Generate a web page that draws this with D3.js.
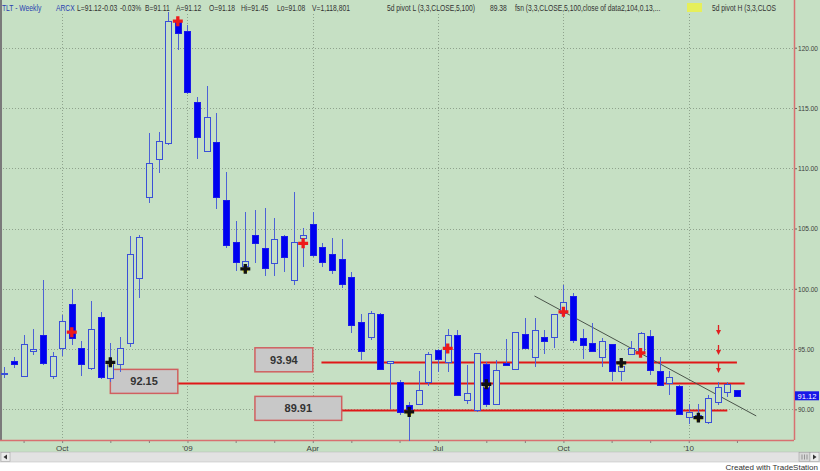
<!DOCTYPE html>
<html><head><meta charset="utf-8">
<script src="https://cdn.jsdelivr.net/npm/d3@7"></script>
<style>html,body{margin:0;padding:0;background:#fff;}svg{display:block;font-family:"Liberation Sans",Arial,sans-serif;}</style>
</head><body>
<svg id="chart" width="820" height="471"></svg>
<script>
// ---------------- DATA ----------------
const opens  = [93.0,94.0,92.8,94.85,96.15,92.74,95.05,98.73,95.07,93.4,97.67,92.58,93.74,95.5,100.87,107.6,110.77,112.1,122.1,121.35,115.5,111.4,112.2,107.37,103.9,101.9,104.5,103.4,102.1,104.4,100.7,104.2,105.4,103.5,102.9,102.5,100.95,97.26,95.96,97.9,93.85,92.27,90.33,90.42,92.27,94.96,93.93,96.2,90.75,89.98,93.72,90.42,93.85,93.38,96.23,94.35,95.96,96.01,97.96,99.39,95.88,95.51,94.3,95.4,93.18,94.57,94.68,96.07,93.18,92.19,91.91,89.36,89.3,88.94,90.6,91.44,91.6];
const highs  = [93.5,94.3,96.15,96.7,100.7,94.74,97.8,99.97,95.7,99.0,98.09,95.5,95.99,104.38,104.47,112.9,113.0,123.0,122.5,121.9,115.95,116.84,114.6,109.7,105.65,106.4,106.5,106.7,105.9,104.5,108.0,105.07,106.4,103.77,104.2,104.1,101.4,97.9,98.17,97.95,94.0,92.41,90.6,93.18,94.76,94.98,96.7,96.57,93.66,94.7,93.93,94.07,95.8,96.45,97.54,97.54,96.62,97.92,100.3,99.67,96.7,97.17,95.88,95.42,93.93,95.68,96.43,96.62,94.3,93.18,92.0,90.47,90.47,91.16,92.27,92.27,91.62];
const lows   = [92.6,93.4,92.66,94.5,93.66,92.5,94.4,95.3,92.8,93.24,92.5,92.27,93.08,95.18,99.2,107.1,109.6,111.9,119.8,116.2,110.8,111.4,106.6,103.35,101.5,101.4,102.1,101.06,101.06,101.4,100.3,101.8,102.66,101.8,101.26,100.03,96.3,94.1,95.74,93.24,90.06,89.5,87.4,90.33,91.9,93.1,93.1,91.1,90.47,89.78,90.2,90.33,93.6,93.35,95.04,93.52,94.57,95.05,97.54,95.46,94.2,94.76,93.47,92.35,92.35,94.49,94.49,92.83,91.95,91.16,89.6,88.81,88.95,88.81,90.33,91.0,91.05];
const closes = [93.02,93.74,95.4,95.0,93.8,94.4,97.34,95.9,93.74,96.65,92.68,93.82,95.07,102.88,104.3,110.45,112.27,122.2,121.2,116.3,112.6,114.25,107.6,103.6,102.24,102.3,103.8,101.7,104.1,102.6,103.85,104.5,102.8,102.2,101.55,100.4,97.0,94.85,98.0,93.38,94.0,89.78,90.06,91.64,94.57,94.2,96.15,91.16,91.35,94.7,90.42,93.24,93.66,96.43,95.1,96.62,95.65,97.9,98.92,95.79,95.32,94.82,95.68,93.18,93.57,95.05,96.3,93.24,91.99,92.68,89.64,89.78,89.5,90.97,91.85,92.08,91.12];

const pivotHighIdx = [7,18,31,46,58,66];
const pivotHighVal = [96.4,122.2,103.77,95.05,98.09,94.68];
const pivotLowIdx  = [11,25,42,50,64,72];
const pivotLowVal  = [93.9,101.65,89.78,92.08,93.85,89.31];

const levelValues = [93.94,92.15,89.91];
const levelLabels = ["93.94","92.15","89.91"];

const trendIdx = [55,78];
const trendVal = [99.4,89.45];

const arrowIdx = 74;
const arrowVals = [96.97,95.31,93.82];

const yTicks = [90,95,100,105,110,115,120];
const yTickLabels = ["90.00","95.00","100.00","105.00","110.00","115.00","120.00"];
const monthLabelIdx = [6,19,32,45,58,71];
const monthLabels = ["Oct","'09","Apr","Jul","Oct","'10"];
const monthTickIdx = [2,6,11,15,19,24,28,32,36,41,45,50,54,58,63,67,71,76];

const lastPrice = 91.12;
const headerTokens = ["TLT - Weekly","ARCX","L=91.12","-0.03","-0.03%","B=91.11","A=91.12","O=91.18","Hi=91.45","Lo=91.08","V=1,118,801","5d pivot L (3,3,CLOSE,5,100)","89.38","fsn (3,3,CLOSE,5,100,close of data2,104,0.13,...","5d pivot H (3,3,CLOS"];

// ---------------- LAYOUT ----------------
const W = 820, H = 471;
const plotRight = 794, plotBottom = 440;
const bg = "#c6e0c4";
const svg = d3.select("#chart");

const x = d3.scaleLinear().domain([0,76]).range([4.3, 4.3+76*9.64]);
const y = d3.scaleLinear().domain([90,120]).range([409.3, 47.7]);
const px = v => Math.round(x(v));
const py = v => Math.round(y(v));

svg.append("rect").attr("x",0).attr("y",0).attr("width",W).attr("height",452).attr("fill",bg);

// grid
const grid = svg.append("g").attr("stroke","#8fa38d").attr("stroke-width",1).attr("stroke-dasharray","1,2");
grid.selectAll("line.h").data(yTicks).join("line").attr("class","h")
  .attr("x1",0).attr("x2",plotRight).attr("y1",d=>py(d)+0.5).attr("y2",d=>py(d)+0.5);
grid.selectAll("line.v").data(monthLabelIdx).join("line").attr("class","v")
  .attr("x1",d=>px(d)+0.5).attr("x2",d=>px(d)+0.5).attr("y1",14).attr("y2",plotBottom);

// left border
svg.append("line").attr("x1",1).attr("x2",1).attr("y1",0).attr("y2",plotBottom).attr("stroke","#7a7a7a").attr("stroke-width",2);

// y axis
const yAxis = d3.axisRight(y).tickValues(yTicks).tickSize(3).tickPadding(1)
  .tickFormat((d,i)=>yTickLabels[i]);
const gy = svg.append("g").attr("transform",`translate(${plotRight},0)`).call(yAxis);
gy.select(".domain").remove();
gy.selectAll("line").attr("stroke","#606060");
gy.selectAll("text").attr("font-size","7.5px").attr("fill","#404040")
  .attr("font-family","Liberation Sans, Arial, sans-serif")
  .attr("textLength",(d,i)=>yTickLabels[i].length>5?20:16).attr("lengthAdjust","spacingAndGlyphs");

// x axis
const xAxis = d3.axisBottom(x).tickValues(monthTickIdx).tickSize(3).tickFormat("");
const gx = svg.append("g").attr("transform",`translate(0,${plotBottom})`).call(xAxis);
gx.select(".domain").remove();
gx.selectAll("line").attr("stroke","#808080");
svg.append("g").selectAll("text").data(monthLabelIdx).join("text")
  .attr("x",d=>x(d)).attr("y",451).attr("text-anchor","middle")
  .attr("font-size","8px").attr("fill","#404040").text((d,i)=>monthLabels[i]);

// plot border lines (red)
svg.append("line").attr("x1",0).attr("x2",plotRight).attr("y1",plotBottom+0.5).attr("y2",plotBottom+0.5).attr("stroke","#d87070").attr("stroke-width",1.5);
svg.append("line").attr("x1",plotRight+0.5).attr("x2",plotRight+0.5).attr("y1",0).attr("y2",plotBottom).attr("stroke","#d87070").attr("stroke-width",1.5);

// level lines & boxes
const levelLine = [[32.9,76.0],[18.0,76.8],[35.0,75.0]];
const levelBox  = [[26.0,32.0],[11.0,18.0],[26.0,35.0]];
const lv = svg.append("g");
levelValues.forEach((v,i)=>{
  lv.append("line").attr("x1",x(levelLine[i][0])).attr("x2",x(levelLine[i][1]))
    .attr("y1",py(v)+0.5).attr("y2",py(v)+0.5).attr("stroke","#e01818").attr("stroke-width",2);
  const bx0 = x(levelBox[i][0]), bx1 = x(levelBox[i][1]);
  const cy = y(v) - 2;
  lv.append("rect").attr("x",bx0).attr("y",cy-12).attr("width",bx1-bx0).attr("height",24)
    .attr("fill","#c8c8c8").attr("stroke","#d06060").attr("stroke-width",1.5);
  lv.append("text").attr("x",(bx0+bx1)/2).attr("y",cy+4).attr("text-anchor","middle")
    .attr("font-size","11px").attr("font-weight","bold").attr("fill","#333").text(levelLabels[i]);
});

// trend line
svg.append("line").attr("x1",x(trendIdx[0])).attr("y1",y(trendVal[0]))
  .attr("x2",x(trendIdx[1])).attr("y2",y(trendVal[1])).attr("stroke","#4a544a").attr("stroke-width",1);

// candles
const candles = opens.map((o,i)=>({i,o,h:highs[i],l:lows[i],c:closes[i]}));
const bw = 6;
const cg = svg.append("g");
cg.selectAll("line.wick").data(candles).join("line").attr("class","wick")
  .attr("x1",d=>px(d.i)+0.5).attr("x2",d=>px(d.i)+0.5)
  .attr("y1",d=>py(d.h)).attr("y2",d=>py(d.l)).attr("stroke","#4d62d6").attr("stroke-width",1);
cg.selectAll("rect.body").data(candles).join("rect").attr("class","body")
  .attr("x",d=>px(d.i)-bw/2+0.5).attr("width",bw)
  .attr("y",d=>py(Math.max(d.o,d.c))+0.5)
  .attr("height",d=>Math.max(1,py(Math.min(d.o,d.c))-py(Math.max(d.o,d.c))))
  .attr("fill",d=>d.c<d.o?"#0000f0":bg)
  .attr("stroke",d=>d.c<d.o?"#1a1ae8":"#3a4fd8").attr("stroke-width",1);

// pivots
const sym = d3.symbol(d3.symbolCross,55);
svg.append("g").selectAll("path").data(pivotHighIdx).join("path")
  .attr("transform",(d,i)=>`translate(${x(d)},${y(pivotHighVal[i])})`)
  .attr("d",sym).attr("fill","#ee1a1a");
const pl = svg.append("g");
pivotLowIdx.forEach((d,i)=>{
  pl.append("circle").attr("cx",x(d)).attr("cy",y(pivotLowVal[i])+1).attr("r",3).attr("fill","#e8e040");
  pl.append("path").attr("transform",`translate(${x(d)},${y(pivotLowVal[i])})`).attr("d",sym).attr("fill","#111");
});

// arrows
const ag = svg.append("g").attr("stroke","#e02020").attr("fill","#e02020");
arrowVals.forEach(v=>{
  const ax = px(arrowIdx)+0.5, ay = py(v);
  ag.append("line").attr("x1",ax).attr("x2",ax).attr("y1",ay).attr("y2",ay+6).attr("stroke-width",1.3);
  ag.append("path").attr("d",`M${ax-2.5},${ay+5}L${ax+2.5},${ay+5}L${ax},${ay+10}Z`).attr("stroke","none");
});

// last price label
svg.append("rect").attr("x",plotRight+1).attr("y",y(lastPrice)-4.5).attr("width",24).attr("height",9).attr("fill","#1818e8");
svg.append("text").attr("x",plotRight+13).attr("y",y(lastPrice)+3).attr("text-anchor","middle")
  .attr("font-size","7.5px").attr("fill","#fff").text(lastPrice.toFixed(2));

// header: horizontally condensed text
const headerStart = [2,56,77,102,120,145,176,209,241,277,312,387,490,515,712];
const sx = 0.75;
const hg = svg.append("g");
hg.append("rect").attr("x",687).attr("y",3).attr("width",15).attr("height",9).attr("fill","#e6ef5a");
const hs = hg.append("g").attr("transform",`scale(${sx},1)`);
headerTokens.forEach((t,i)=>{
  hs.append("text").attr("x",headerStart[i]/sx).attr("y",11).attr("font-size","9px")
    .attr("fill",i<2?"#2a3fb0":"#333").text(t);
});

// scrollbar & footer
svg.append("rect").attr("x",0).attr("y",452).attr("width",W).attr("height",10).attr("fill","#e2e2e2").attr("stroke","#b8b8b8").attr("stroke-width",0.5);
svg.append("rect").attr("x",1).attr("y",452.5).attr("width",9).attr("height",9).attr("fill","#ececec").attr("stroke","#999").attr("stroke-width",0.5);
svg.append("path").attr("d","M3.5,457L7,454.5L7,459.5Z").attr("fill","#333");
svg.append("rect").attr("x",799).attr("y",452.5).attr("width",11).attr("height",9).attr("fill","#d8d8d8").attr("stroke","#999").attr("stroke-width",0.5);
[802,804.5,807].forEach(gx0=>svg.append("line").attr("x1",gx0).attr("x2",gx0).attr("y1",454.5).attr("y2",459.5).attr("stroke","#777").attr("stroke-width",0.7));
svg.append("rect").attr("x",810).attr("y",452.5).attr("width",9).attr("height",9).attr("fill","#ececec").attr("stroke","#999").attr("stroke-width",0.5);
svg.append("path").attr("d","M813,454.5L816.5,457L813,459.5Z").attr("fill","#333");
svg.append("text").attr("x",818).attr("y",469.5).attr("text-anchor","end").attr("font-size","8px").attr("fill","#333").text("Created with TradeStation");
</script>
</body></html>
